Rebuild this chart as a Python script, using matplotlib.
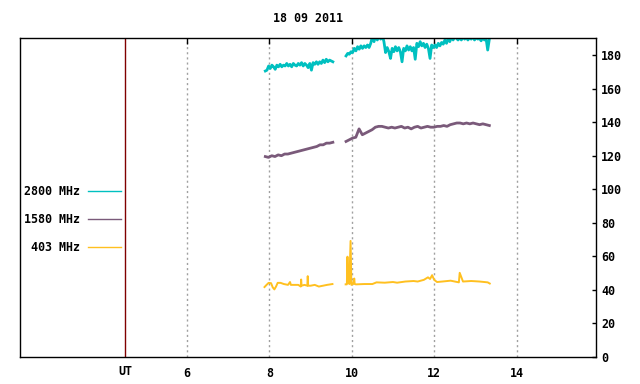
import numpy as np
import matplotlib
matplotlib.use("Agg")
import matplotlib.pyplot as plt

# 2800 MHz (cyan), two pieces of record
c1_span = (7.90, 9.54)
c1_vals = [170.5, 171, 173.5, 172, 174, 173, 171.5, 174, 173, 174.5, 173, 174,
           173.5, 175, 173.5, 174.5, 173, 175, 174, 173.5, 175, 174, 175.5, 173.5,
           175, 174, 172.5, 175, 171, 175.5, 174.5, 176, 174.5, 176, 175, 177,
           175.5, 177.5, 176, 177, 176.5, 176]
c2_span = (9.86, 13.34)
c2_vals = [179.5, 181, 180.5, 182, 181.5, 184, 182.5, 185, 183.5, 185.5, 184, 185.5,
           184.5, 186, 184.5, 187, 191, 188, 192, 189, 192, 189.5, 192, 188,
           181.5, 184.5, 182, 178, 184, 182, 185, 182.5, 184.5, 182, 176, 184,
           182.5, 185.5, 183, 185, 182.5, 184.5, 177.5, 187, 185, 188, 185.5, 187,
           184.5, 186.5, 184, 178, 186, 184.5, 186, 184.5, 187, 185.5, 187.5, 186.5,
           189, 187, 190, 188, 191, 189, 191, 190, 189, 190.5, 189, 191,
           189.5, 190.5, 189, 190.5, 189.5, 191, 189, 190.5, 189.5, 190, 188.5, 190.5,
           189, 190, 183, 189.5]

# 1580 MHz (purple)
p1_span = (7.90, 9.54)
p1_vals = [119.5, 119, 120, 119.5, 120.5, 120, 121, 121, 121.5, 122, 122.5, 123,
           123.5, 124, 124.5, 125, 125.5, 126.5, 126.5, 127.5, 127.5, 128]
p2_span = (9.86, 13.34)
p2_vals = [128.5, 129.5, 130.5, 131, 136, 132.5, 133.5, 134.5, 135.5, 137, 137.5, 137.5,
           137, 136.5, 137, 136.5, 137, 137.5, 136.5, 137, 136, 137, 137.5, 136.5,
           137, 137.5, 137, 137, 137.5, 137.5, 138, 137.5, 138.5, 139, 139.5, 139.5,
           139, 139.5, 139, 139.5, 139, 138.5, 139, 138.5, 138]

# 403 MHz (gold)
g1_t = [7.88, 7.93, 7.98, 8.04, 8.08, 8.12, 8.16, 8.20, 8.27, 8.35, 8.45, 8.50,
        8.52, 8.60, 8.70, 8.76, 8.77, 8.78, 8.85, 8.92, 8.93, 8.94, 9.00, 9.10,
        9.20, 9.30, 9.40, 9.53]
g1_v = [41.7, 43, 44.2, 44, 41.5, 40.3, 42, 44.2, 44.2, 43.5, 43, 44.7,
        43, 43, 43, 42, 46.2, 42.5, 43, 42.5, 48.2, 42.5, 42.5, 43,
        42, 42.5, 43, 43.5]
g2_t = [9.85, 9.88, 9.895, 9.91, 9.92, 9.94, 9.97, 9.99, 10.03, 10.06, 10.07, 10.10,
        10.3, 10.5, 10.6, 10.8, 11.0, 11.1, 11.3, 11.5, 11.6, 11.75, 11.85, 11.9,
        11.95, 12.0, 12.07, 12.2, 12.4, 12.5, 12.6, 12.62, 12.7, 12.9, 13.1, 13.3,
        13.35]
g2_v = [43.3, 43.3, 59.8, 44, 51.8, 43.5, 69.2, 43, 43.5, 46.8, 43.5, 43.3,
        43.5, 43.5, 44.5, 44.3, 44.7, 44.3, 45, 45.3, 45, 46, 47.5, 46.5,
        48.8, 46, 44.7, 45, 45.5, 45, 44.5, 50.2, 45, 45.3, 45, 44.5,
        43.8]

x_ticks = [6, 8, 10, 12, 14]
y_ticks = [0, 20, 40, 60, 80, 100, 120, 140, 160, 180]
ut_mark = 4.5
title = "18 09 2011"

cyan = "#00c0c0"
purple = "#7a5a7a"
gold = "#ffc020"

font = {"family": "DejaVu Sans Mono", "weight": "bold", "size": 8.4}
plt.rcParams["font.family"] = "DejaVu Sans Mono"
plt.rcParams["font.weight"] = "bold"
plt.rcParams["font.size"] = 8.4

fig = plt.figure(figsize=(6.4, 3.84), dpi=100)
ax = fig.add_axes([20.3 / 640, 27 / 384, (596 - 20.3) / 640, (357 - 38.3) / 384])

def span(s, vals):
    return np.linspace(s[0], s[1], len(vals))

ax.plot(span(c1_span, c1_vals), c1_vals, color=cyan, lw=2.0, label="2800 MHz")
ax.plot(span(c2_span, c2_vals), c2_vals, color=cyan, lw=2.0)
ax.plot(span(p1_span, p1_vals), p1_vals, color=purple, lw=2.0, label="1580 MHz")
ax.plot(span(p2_span, p2_vals), p2_vals, color=purple, lw=2.0)
ax.plot(g1_t, g1_v, color=gold, lw=1.4, label=" 403 MHz")
ax.plot(g2_t, g2_v, color=gold, lw=1.4)

for x in x_ticks:
    ax.axvline(x, color="#a0a0a0", lw=1, linestyle=(0, (1.5, 2.2)), zorder=0)
ax.axvline(ut_mark, color="#800000", lw=1)

ax.set_xlim(1.95, 15.93)
ax.set_ylim(0, 190)
ax.set_xticks(x_ticks)
ax.set_yticks(y_ticks)
ax.yaxis.tick_right()
ax.tick_params(axis="x", top=True, bottom=False, direction="in", length=4.3,
               width=1, pad=7.5, labelsize=8.4)
ax.tick_params(axis="y", right=True, left=False, direction="in", length=3,
               width=1, pad=3.6, labelsize=8.4)
for s in ax.spines.values():
    s.set_linewidth(1)

ax.text(ut_mark, -0.045, "UT", transform=ax.get_xaxis_transform(),
        ha="center", va="center", fontdict=font)
fig.text(308 / 640, 1 - 19 / 384, title, ha="center", va="center", fontdict=font)

leg = fig.legend(loc="center right", bbox_to_anchor=(121 / 640, 1 - 219.5 / 384),
                 frameon=False, markerfirst=False, handlelength=2.85, handletextpad=0.7,
                 labelspacing=1.25, borderpad=0, borderaxespad=0,
                 prop={"family": "DejaVu Sans Mono", "weight": "bold", "size": 8.4})
for h in leg.get_lines():
    h.set_linewidth(1)

fig.savefig("out.png", dpi=100)
